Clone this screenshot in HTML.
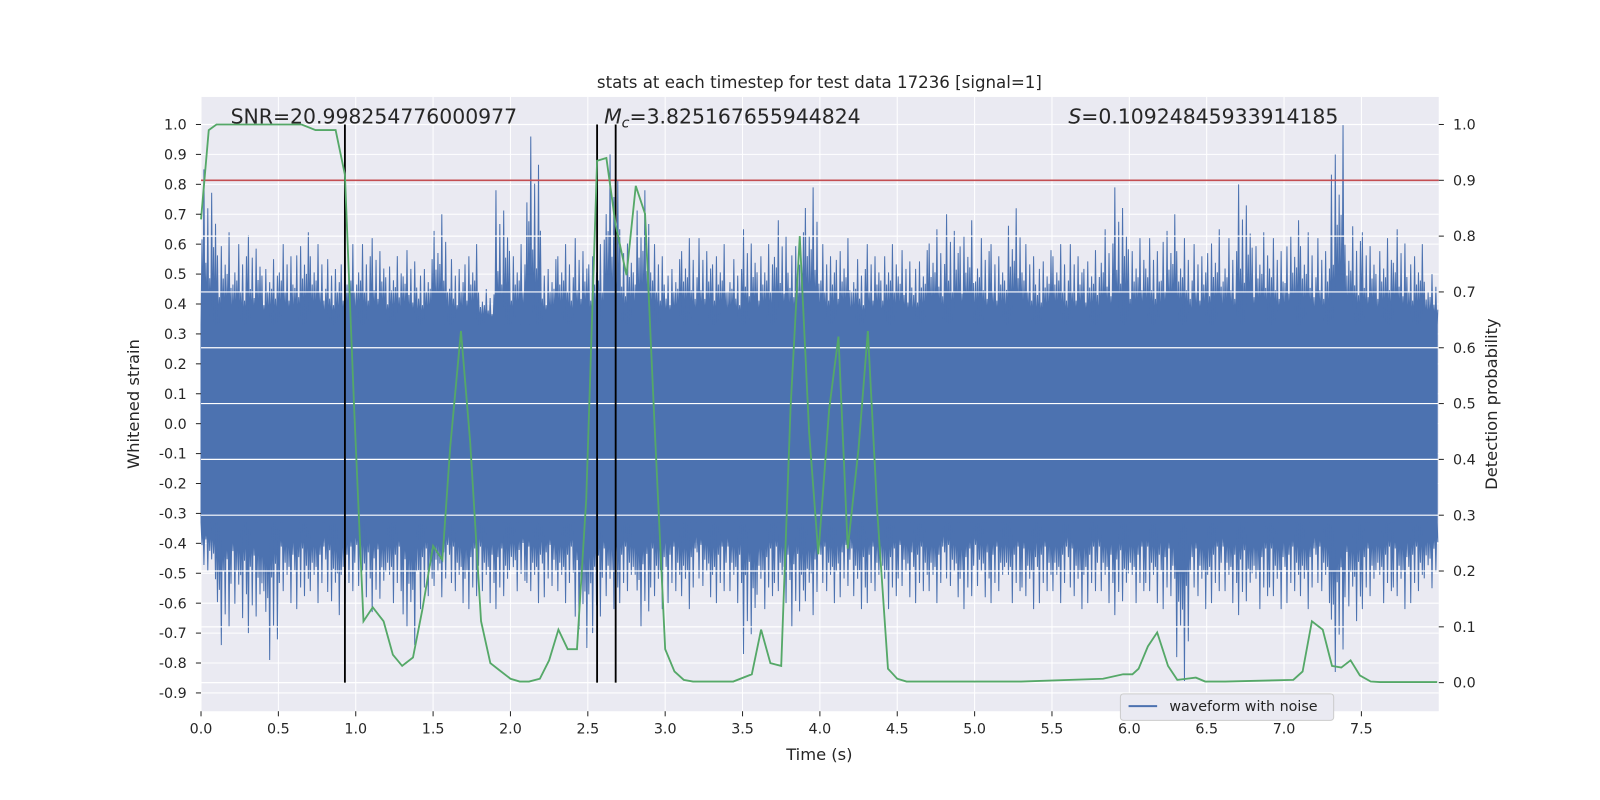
<!DOCTYPE html>
<html><head><meta charset="utf-8">
<style>
html,body{margin:0;padding:0;width:1600px;height:800px;overflow:hidden;background:#fff;}
svg{display:block;font-family:"DejaVu Sans","Liberation Sans",sans-serif;}
</style></head>
<body>
<svg id="chart" width="1600" height="800" viewBox="0 0 1600 800" xmlns="http://www.w3.org/2000/svg">
<g transform="scale(1.0204)">
<rect x="197" y="95" width="1213" height="602" fill="#eaeaf2"/>
<g id="grid"></g>
<g id="wave"></g>
<g id="overlay"></g>
<g id="axes"></g>
<text x="803" y="86" text-anchor="middle" font-size="16.3" fill="#262626">stats at each timestep for test data 17236 [signal=1]</text>
<text x="803" y="745" text-anchor="middle" font-size="16" fill="#262626">Time (s)</text>
<text transform="translate(136,396) rotate(-90)" text-anchor="middle" font-size="16" fill="#262626">Whitened strain</text>
<text transform="translate(1467,396) rotate(-90)" text-anchor="middle" font-size="16" fill="#262626">Detection probability</text>
<text x="226" y="121" font-size="20" fill="#262626">SNR=20.998254776000977</text>
<text x="592" y="121" font-size="20" fill="#262626"><tspan font-style="italic">M</tspan><tspan font-style="italic" font-size="14" dy="4">c</tspan><tspan dy="-4">=3.825167655944824</tspan></text>
<text x="1047" y="121" font-size="20" fill="#262626"><tspan font-style="italic">S</tspan>=0.10924845933914185</text>
<g>
<rect x="1098" y="680" width="209" height="26" rx="3" fill="#eaeaf2" stroke="#cccccc"/>
<line x1="1106" y1="692" x2="1134" y2="692" stroke="#4c72b0" stroke-width="2"/>
<text x="1146" y="697" font-size="14" fill="#262626">waveform with noise</text>
</g>
</g>
</svg>
<script>
const xTicks=[0,0.5,1,1.5,2,2.5,3,3.5,4,4.5,5,5.5,6,6.5,7,7.5];
const leftTicks=[1.0,0.9,0.8,0.7,0.6,0.5,0.4,0.3,0.2,0.1,0.0,-0.1,-0.2,-0.3,-0.4,-0.5,-0.6,-0.7,-0.8,-0.9];
const rightTicks=[1.0,0.9,0.8,0.7,0.6,0.5,0.4,0.3,0.2,0.1,0.0];
// waveform envelope per 0.1 s bin
const waveUpper=[0.85,0.64,0.6,0.63,0.55,0.6,0.64,0.6,0.55,0.6,0.6,0.62,0.56,0.58,0.55,0.7,0.55,0.6,0.45,0.78,0.6,0.96,0.55,0.6,0.62,0.6,0.9,0.65,0.78,0.6,0.55,0.62,0.62,0.6,0.55,0.65,0.6,0.68,0.64,0.79,0.6,0.62,0.55,0.6,0.6,0.58,0.58,0.65,0.7,0.68,0.62,0.6,0.72,0.6,0.58,0.6,0.6,0.58,0.65,0.79,0.62,0.62,0.7,0.62,0.6,0.65,0.62,0.8,0.64,0.62,0.68,0.64,0.62,1.0,0.66,0.64,0.62,0.65,0.6,0.5];
const waveLower=[-0.52,-0.74,-0.65,-0.7,-0.79,-0.6,-0.62,-0.6,-0.64,-0.6,-0.58,-0.63,-0.6,-0.74,-0.62,-0.58,-0.6,-0.62,-0.6,-0.62,-0.56,-0.6,-0.58,-0.6,-0.75,-0.7,-0.62,-0.6,-0.68,-0.62,-0.6,-0.62,-0.58,-0.6,-0.6,-0.77,-0.62,-0.6,-0.68,-0.64,-0.6,-0.58,-0.62,-0.6,-0.62,-0.58,-0.6,-0.6,-0.58,-0.62,-0.58,-0.6,-0.6,-0.62,-0.6,-0.6,-0.62,-0.6,-0.6,-0.64,-0.6,-0.6,-0.62,-0.86,-0.62,-0.6,-0.6,-0.64,-0.62,-0.62,-0.6,-0.62,-0.6,-0.83,-0.66,-0.62,-0.6,-0.62,-0.6,-0.55];
const probTime=[0,0.05,0.1,0.65,0.74,0.87,0.93,0.99,1.05,1.11,1.18,1.24,1.3,1.37,1.43,1.5,1.56,1.61,1.68,1.74,1.81,1.87,1.93,2.0,2.06,2.12,2.19,2.25,2.31,2.37,2.43,2.49,2.56,2.62,2.68,2.75,2.81,2.87,2.93,3.0,3.06,3.12,3.18,3.25,3.44,3.56,3.62,3.68,3.75,3.81,3.87,3.93,3.99,4.06,4.12,4.18,4.25,4.31,4.37,4.44,4.5,4.56,4.69,5.3,5.83,5.96,6.02,6.06,6.12,6.18,6.25,6.31,6.37,6.43,6.49,6.62,7.06,7.12,7.18,7.25,7.31,7.37,7.43,7.49,7.56,7.62,7.68,7.99];
const probVal=[0.83,0.99,1.0,1.0,0.99,0.99,0.91,0.49,0.11,0.135,0.11,0.05,0.03,0.045,0.13,0.245,0.22,0.42,0.63,0.43,0.11,0.035,0.022,0.007,0.002,0.002,0.007,0.04,0.095,0.06,0.06,0.33,0.935,0.94,0.82,0.73,0.89,0.84,0.47,0.06,0.02,0.005,0.002,0.002,0.002,0.015,0.095,0.035,0.03,0.49,0.8,0.45,0.23,0.49,0.62,0.24,0.42,0.63,0.31,0.025,0.007,0.002,0.002,0.002,0.007,0.015,0.015,0.025,0.065,0.09,0.03,0.005,0.007,0.009,0.002,0.002,0.005,0.02,0.11,0.095,0.03,0.027,0.04,0.013,0.002,0.001,0.001,0.001];
const markerTimes=[0.93,2.56,2.68];
const threshold=0.9;

const NS="http://www.w3.org/2000/svg";
const X0=197,X1=1410,TMAX=8.0;
const xs=t=>X0+(X1-X0)*t/TMAX;
const yl=v=>122+(1.0-v)*293.2;
const yr=p=>669-p*547;
function mk(tag,attrs,parent){const e=document.createElementNS(NS,tag);for(const k in attrs)e.setAttribute(k,attrs[k]);parent.appendChild(e);return e;}
const grid=document.getElementById('grid'),wave=document.getElementById('wave'),ov=document.getElementById('overlay'),ax=document.getElementById('axes');
xTicks.forEach(t=>{
 const l=mk('line',{x1:xs(t),x2:xs(t),y1:95,y2:697,stroke:'#fff','stroke-width':1},grid);
 
 
 const tk=mk('line',{x1:xs(t),x2:xs(t),y1:697,y2:702,stroke:'#262626'},ax);
 
 
 const tx=mk('text',{x:xs(t),y:719,'text-anchor':'middle','font-size':14,fill:'#262626'},ax);
 tx.textContent=t.toFixed(1);
 
 
});
leftTicks.forEach(v=>{
 const l=mk('line',{x1:X0,x2:X1,y1:yl(v),y2:yl(v),stroke:'#fff','stroke-width':1},grid);
 
 
 const tk=mk('line',{x1:192,x2:197,y1:yl(v),y2:yl(v),stroke:'#262626'},ax);
 
 
 const tx=mk('text',{x:183,y:yl(v)+5,'text-anchor':'end','font-size':14,fill:'#262626'},ax);
 tx.textContent=v.toFixed(1);
 
 
});
rightTicks.forEach(p=>{
 const tk=mk('line',{x1:1410,x2:1415,y1:yr(p),y2:yr(p),stroke:'#262626'},ax);
 
 
 const tx=mk('text',{x:1424,y:yr(p)+5,'font-size':14,fill:'#262626'},ax);
 tx.textContent=p.toFixed(1);
 
 
});
const spikeShape=[0.55,1.0,0.4,0.75,0.3,0.85,0.5,0.65];
let pts=[];const core=0.33,bw=0.1,ns=spikeShape.length;
waveUpper.forEach((u,i)=>{const t=i*bw;for(let k=0;k<ns;k++){const f=spikeShape[(k+i*3)%ns];const ts=t+bw*k/ns;pts.push([xs(ts),yl(core)],[xs(ts+bw/(2*ns)),yl(core+(u-core)*f)]);}});
pts.push([xs(TMAX-0.01),yl(core)],[xs(TMAX-0.01),yl(-core)]);
for(let i=waveLower.length-1;i>=0;i--){const t=i*bw,d=waveLower[i];for(let k=ns-1;k>=0;k--){const f=spikeShape[(k+i*5+2)%ns];const ts=t+bw*k/ns;pts.push([xs(ts+bw/(2*ns)),yl(-core+(d+core)*f)],[xs(ts),yl(-core)]);}}
const wp=mk('polygon',{points:pts.map(p=>p.join(',')).join(' '),fill:'#4c72b0',stroke:'#4c72b0','stroke-width':1,'stroke-linejoin':'miter'},wave);


rightTicks.forEach(p=>{
 const l=mk('line',{x1:X0,x2:X1,y1:yr(p),y2:yr(p),stroke:'#fff','stroke-width':1.2},ov);
 
 
});
const th=mk('line',{x1:X0,x2:X1,y1:yr(threshold),y2:yr(threshold),stroke:'#c44e52','stroke-width':1.5},ov);


markerTimes.forEach(t=>{
 const l=mk('line',{x1:xs(t),x2:xs(t),y1:yr(1),y2:yr(0),stroke:'#000','stroke-width':1.8},ov);
 
 
});
const pl=mk('polyline',{points:probTime.map((t,i)=>xs(t)+','+yr(probVal[i])).join(' '),fill:'none',stroke:'#55a868','stroke-width':1.8},ov);


</script>
</body></html>
